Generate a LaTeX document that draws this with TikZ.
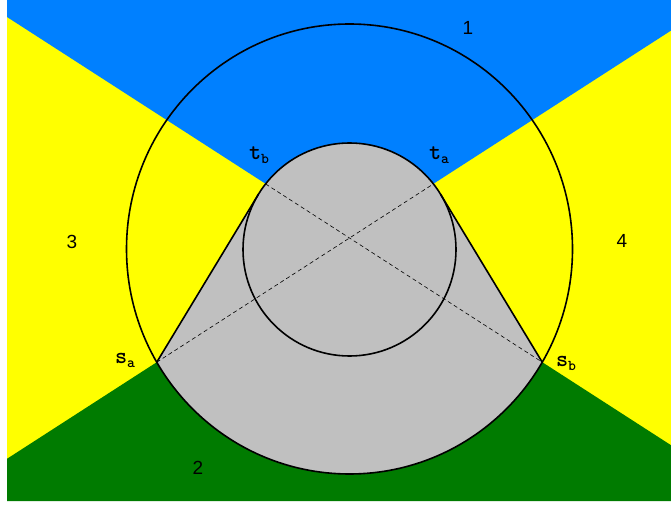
\documentclass[tikz,border=0pt]{standalone}
\usepackage{fontspec}
\setmainfont{Liberation Sans}
\usetikzlibrary{calc}
\definecolor{regblue}{RGB}{0,128,255}
\definecolor{regyellow}{RGB}{255,255,0}
\definecolor{reggreen}{RGB}{0,123,0}
\definecolor{reggrey}{RGB}{192,192,192}
\tikzset{
  outline/.style={line width=1.6pt, black},
  chord/.style={line width=0.6pt, black, dash pattern=on 4pt off 3pt},
  numlabel/.style={font=\fontsize{19}{21}\selectfont, inner sep=0pt},
  ptlabel/.style={font=\ttfamily\bfseries\fontsize{23}{25}\selectfont, inner sep=0pt},
}
\newcommand{\sublbl}[2]{#1\raisebox{-4pt}{\fontsize{15}{17}\selectfont #2}}
\begin{document}
\begin{tikzpicture}[x=1pt,y=1pt]
\useasboundingbox (0,0) rectangle (671,506);
\fill[white] (0,0) rectangle (671,506);
% key points
\coordinate (cs) at (349.5,256.5);   % small circle centre
\coordinate (cb) at (349.5,257);     % big circle centre
\coordinate (sa) at ($(cb)+(210.2:223 and 225)$);
\coordinate (sb) at ($(cb)+(-30.2:223 and 225)$);
\coordinate (ta) at ($(cs)+(38:106.5)$);
\coordinate (tb) at ($(cs)+(142:106.5)$);
\coordinate (X) at (349.5,268.1);
\coordinate (aL) at (7,47.2);
\coordinate (aR) at (671,475.4);
\coordinate (bL) at (7,489);
\coordinate (bR) at (671,60.8);
% regions
\fill[regyellow] (7,5) rectangle (671,506);
\fill[regblue] (7,506) -- (671,506) -- (aR) -- (X) -- (bL) -- cycle;
\fill[reggreen] (7,5) -- (671,5) -- (bR) -- (X) -- (aL) -- cycle;
% grey hull
\coordinate (T1) at ($(cs)+(148.83:106.5)$);
\coordinate (T2) at ($(cs)+(31.17:106.5)$);
\fill[reggrey] (sa) -- (T1) arc[start angle=148.83, end angle=31.17, radius=106.5]
  -- (sb) arc[start angle=-30.2, end angle=-149.8, x radius=223, y radius=225] -- cycle;
\draw[outline] (sa) -- (T1);
\draw[outline] (sb) -- (T2);
% circles
\draw[outline] (cb) ellipse[x radius=223, y radius=225];
\draw[outline] (cs) circle[radius=106.5];
% chords
\draw[chord] (sa) -- (ta);
\draw[chord] (tb) -- (sb);
% labels
\node[numlabel] (n1) at (468,478) {1};
\node[numlabel] (n2) at (198,38) {2};
\node[numlabel] (n3) at (72,264) {3};
\node[numlabel] (n4) at (622,265) {4};
\node[ptlabel] (ltb) at (259,351) {\sublbl{t}{b}};
\node[ptlabel] (lta) at (439,351) {\sublbl{t}{a}};
\node[ptlabel] (lsa) at (125,146) {\sublbl{s}{a}};
\node[ptlabel] (lsb) at (566,143) {\sublbl{s}{b}};
\end{tikzpicture}
\end{document}
